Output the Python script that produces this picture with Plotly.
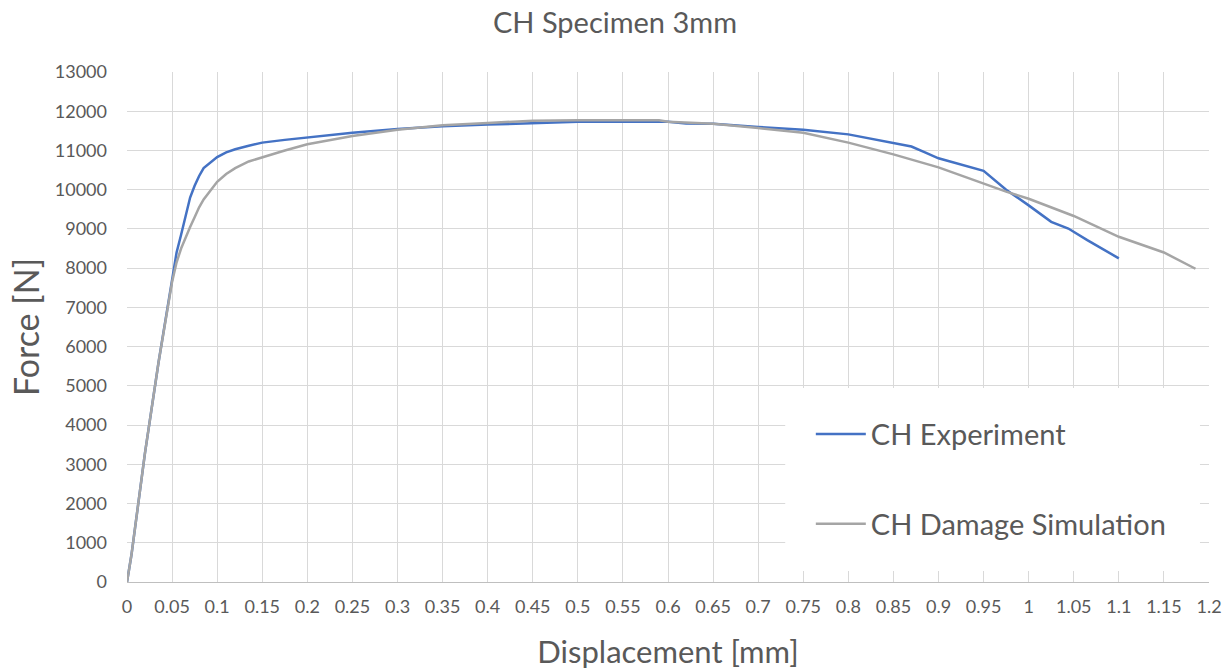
import plotly.graph_objects as go

# Force–displacement curves for the 3 mm CH specimen
exp_disp = [0, 0.005, 0.02, 0.035, 0.05, 0.055, 0.06, 0.065, 0.07, 0.075, 0.08,
            0.085, 0.09, 0.095, 0.1, 0.11, 0.12, 0.135, 0.15, 0.175, 0.2, 0.25,
            0.3, 0.35, 0.4, 0.45, 0.5, 0.55, 0.6, 0.62, 0.65, 0.7, 0.75, 0.8,
            0.85, 0.87, 0.885, 0.9, 0.95, 0.975, 1.0, 1.025, 1.044, 1.05, 1.065,
            1.1]
exp_force = [0, 700, 3300, 5600, 7700, 8400, 8850, 9350, 9800, 10100, 10350,
             10550, 10650, 10750, 10830, 10950, 11030, 11120, 11200, 11270, 11330,
             11450, 11550, 11620, 11660, 11700, 11730, 11730, 11730, 11690, 11680,
             11600, 11530, 11410, 11200, 11100, 10950, 10800, 10480, 10000, 9600,
             9180, 9010, 8920, 8715, 8250]

sim_disp = [0, 0.005, 0.02, 0.035, 0.05, 0.055, 0.06, 0.065, 0.07, 0.075, 0.08,
            0.085, 0.09, 0.095, 0.1, 0.11, 0.12, 0.135, 0.15, 0.175, 0.2, 0.25,
            0.3, 0.35, 0.4, 0.45, 0.5, 0.55, 0.59, 0.6, 0.65, 0.7, 0.75, 0.8,
            0.85, 0.9, 0.95, 0.975, 1.0, 1.05, 1.1, 1.15, 1.185]
sim_force = [0, 700, 3300, 5600, 7650, 8150, 8500, 8800, 9050, 9300, 9550,
             9750, 9900, 10050, 10200, 10400, 10550, 10720, 10830, 11000, 11160,
             11370, 11530, 11640, 11700, 11760, 11770, 11770, 11770, 11730, 11680,
             11570, 11450, 11200, 10900, 10570, 10150, 9950, 9770, 9330, 8800,
             8400, 7985]

series_names = ["CH Experiment", "CH Damage Simulation"]
series_colors = ["#4472C4", "#A5A5A5"]

chart_title = "CH Specimen 3mm"
x_title = "Displacement [mm]"
y_title = "Force [N]"

FONT = "Lato"
TEXT = "#595959"
GRID = "#D9D9D9"

fig = go.Figure()
for i, (xs, ys) in enumerate([(exp_disp, exp_force), (sim_disp, sim_force)]):
    fig.add_trace(go.Scatter(
        x=xs, y=ys, mode="lines", name=series_names[i],
        legendgroup=f"g{i}",
        line=dict(color=series_colors[i], width=2.5),
    ))

# white panel behind the legend, covering the grid
fig.add_shape(type="rect", xref="x", yref="y",
              x0=0.730, x1=1.190, y0=280, y1=4945,
              fillcolor="white", line=dict(width=0), layer="between")

fig.update_layout(
    width=1230, height=670,
    margin=dict(l=127, r=21, t=72, b=88),
    paper_bgcolor="white", plot_bgcolor="white",
    font=dict(family=FONT, color=TEXT),
    title=dict(text=chart_title, x=0.5, xanchor="center", xref="container",
               y=0.966, yanchor="middle", yref="container",
               font=dict(size=29, color=TEXT, family=FONT)),
    xaxis=dict(range=[0, 1.2], dtick=0.05, tick0=0, showgrid=True, gridcolor=GRID,
               gridwidth=1, zeroline=False, showline=True, linecolor="#BFBFBF",
               ticks="", tickfont=dict(size=18, color=TEXT), ticklabelstandoff=8,
               automargin=False,
               title=dict(text=x_title, font=dict(size=31, color=TEXT), standoff=28)),
    yaxis=dict(range=[0, 13000], dtick=1000, tick0=0, tickformat="d", showgrid=True,
               gridcolor=GRID, gridwidth=1, zeroline=False, showline=False,
               ticks="", tickfont=dict(size=18, color=TEXT), ticklabelstandoff=19,
               automargin=False,
               title=dict(text=y_title, font=dict(size=34, color=TEXT), standoff=4)),
    legend=dict(x=0.632, y=0.34, xanchor="left", yanchor="top",
                bgcolor="rgba(0,0,0,0)", font=dict(size=29, color=TEXT),
                traceorder="grouped", tracegroupgap=49, itemwidth=50),
    showlegend=True,
)

fig.write_html("out.html")
